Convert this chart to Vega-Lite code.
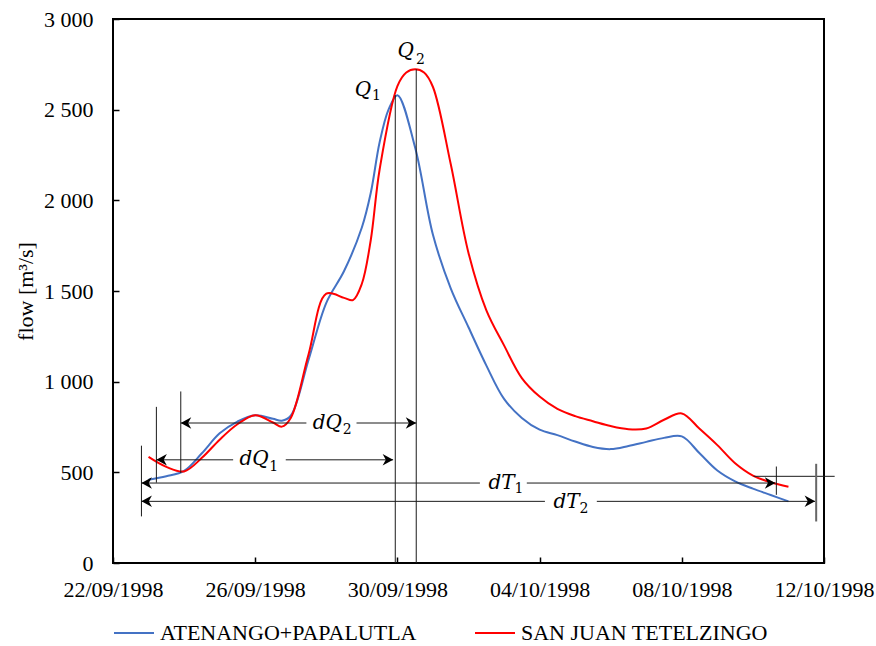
{
  "$schema": "https://vega.github.io/schema/vega-lite/v6.json",
  "autosize": {"type": "none"},
  "width": 711,
  "height": 544,
  "padding": {"left": 113, "top": 19, "right": 52, "bottom": 83},
  "background": "#ffffff",
  "config": {
    "font": "Liberation Serif",
    "view": {"stroke": "#000000", "strokeWidth": 2},
    "axis": {
      "domain": false,
      "grid": false,
      "tickColor": "#000000",
      "tickWidth": 1.5,
      "tickSize": -6,
      "labelFont": "Liberation Serif",
      "labelFontSize": 22,
      "labelColor": "#000000",
      "titleFont": "Liberation Serif",
      "titleFontSize": 22,
      "titleFontWeight": "normal",
      "titleColor": "#000000"
    },
    "legend": {
      "labelFont": "Liberation Serif",
      "labelFontSize": 22,
      "labelColor": "#000000",
      "labelLimit": 500
    }
  },
  "datasets": {
    "flows": [
      {"date": "1998-09-23T00:00:00Z", "flow": 459, "station": "ATENANGO+PAPALUTLA"},
      {"date": "1998-09-23T12:00:00Z", "flow": 478, "station": "ATENANGO+PAPALUTLA"},
      {"date": "1998-09-24T00:00:00Z", "flow": 508, "station": "ATENANGO+PAPALUTLA"},
      {"date": "1998-09-24T12:00:00Z", "flow": 605, "station": "ATENANGO+PAPALUTLA"},
      {"date": "1998-09-25T00:00:00Z", "flow": 715, "station": "ATENANGO+PAPALUTLA"},
      {"date": "1998-09-25T12:00:00Z", "flow": 780, "station": "ATENANGO+PAPALUTLA"},
      {"date": "1998-09-26T00:00:00Z", "flow": 815, "station": "ATENANGO+PAPALUTLA"},
      {"date": "1998-09-26T12:00:00Z", "flow": 795, "station": "ATENANGO+PAPALUTLA"},
      {"date": "1998-09-26T18:00:00Z", "flow": 785, "station": "ATENANGO+PAPALUTLA"},
      {"date": "1998-09-27T00:00:00Z", "flow": 812, "station": "ATENANGO+PAPALUTLA"},
      {"date": "1998-09-27T12:00:00Z", "flow": 1120, "station": "ATENANGO+PAPALUTLA"},
      {"date": "1998-09-28T00:00:00Z", "flow": 1435, "station": "ATENANGO+PAPALUTLA"},
      {"date": "1998-09-28T12:00:00Z", "flow": 1610, "station": "ATENANGO+PAPALUTLA"},
      {"date": "1998-09-29T00:00:00Z", "flow": 1850, "station": "ATENANGO+PAPALUTLA"},
      {"date": "1998-09-29T06:00:00Z", "flow": 2040, "station": "ATENANGO+PAPALUTLA"},
      {"date": "1998-09-29T12:00:00Z", "flow": 2320, "station": "ATENANGO+PAPALUTLA"},
      {"date": "1998-09-29T18:00:00Z", "flow": 2500, "station": "ATENANGO+PAPALUTLA"},
      {"date": "1998-09-30T00:00:00Z", "flow": 2580, "station": "ATENANGO+PAPALUTLA"},
      {"date": "1998-09-30T12:00:00Z", "flow": 2290, "station": "ATENANGO+PAPALUTLA"},
      {"date": "1998-10-01T00:00:00Z", "flow": 1810, "station": "ATENANGO+PAPALUTLA"},
      {"date": "1998-10-01T12:00:00Z", "flow": 1515, "station": "ATENANGO+PAPALUTLA"},
      {"date": "1998-10-02T00:00:00Z", "flow": 1300, "station": "ATENANGO+PAPALUTLA"},
      {"date": "1998-10-02T12:00:00Z", "flow": 1090, "station": "ATENANGO+PAPALUTLA"},
      {"date": "1998-10-03T00:00:00Z", "flow": 905, "station": "ATENANGO+PAPALUTLA"},
      {"date": "1998-10-03T12:00:00Z", "flow": 800, "station": "ATENANGO+PAPALUTLA"},
      {"date": "1998-10-04T00:00:00Z", "flow": 735, "station": "ATENANGO+PAPALUTLA"},
      {"date": "1998-10-04T12:00:00Z", "flow": 705, "station": "ATENANGO+PAPALUTLA"},
      {"date": "1998-10-05T00:00:00Z", "flow": 670, "station": "ATENANGO+PAPALUTLA"},
      {"date": "1998-10-05T12:00:00Z", "flow": 640, "station": "ATENANGO+PAPALUTLA"},
      {"date": "1998-10-06T00:00:00Z", "flow": 628, "station": "ATENANGO+PAPALUTLA"},
      {"date": "1998-10-06T12:00:00Z", "flow": 645, "station": "ATENANGO+PAPALUTLA"},
      {"date": "1998-10-07T00:00:00Z", "flow": 668, "station": "ATENANGO+PAPALUTLA"},
      {"date": "1998-10-07T12:00:00Z", "flow": 690, "station": "ATENANGO+PAPALUTLA"},
      {"date": "1998-10-08T00:00:00Z", "flow": 698, "station": "ATENANGO+PAPALUTLA"},
      {"date": "1998-10-08T12:00:00Z", "flow": 605, "station": "ATENANGO+PAPALUTLA"},
      {"date": "1998-10-09T00:00:00Z", "flow": 510, "station": "ATENANGO+PAPALUTLA"},
      {"date": "1998-10-09T12:00:00Z", "flow": 450, "station": "ATENANGO+PAPALUTLA"},
      {"date": "1998-10-10T00:00:00Z", "flow": 410, "station": "ATENANGO+PAPALUTLA"},
      {"date": "1998-10-10T12:00:00Z", "flow": 375, "station": "ATENANGO+PAPALUTLA"},
      {"date": "1998-10-11T00:00:00Z", "flow": 340, "station": "ATENANGO+PAPALUTLA"},
      {"date": "1998-09-23T00:00:00Z", "flow": 585, "station": "SAN JUAN TETELZINGO"},
      {"date": "1998-09-23T12:00:00Z", "flow": 530, "station": "SAN JUAN TETELZINGO"},
      {"date": "1998-09-24T00:00:00Z", "flow": 505, "station": "SAN JUAN TETELZINGO"},
      {"date": "1998-09-24T12:00:00Z", "flow": 580, "station": "SAN JUAN TETELZINGO"},
      {"date": "1998-09-25T00:00:00Z", "flow": 680, "station": "SAN JUAN TETELZINGO"},
      {"date": "1998-09-25T12:00:00Z", "flow": 765, "station": "SAN JUAN TETELZINGO"},
      {"date": "1998-09-26T00:00:00Z", "flow": 815, "station": "SAN JUAN TETELZINGO"},
      {"date": "1998-09-26T12:00:00Z", "flow": 775, "station": "SAN JUAN TETELZINGO"},
      {"date": "1998-09-26T18:00:00Z", "flow": 752, "station": "SAN JUAN TETELZINGO"},
      {"date": "1998-09-27T00:00:00Z", "flow": 800, "station": "SAN JUAN TETELZINGO"},
      {"date": "1998-09-27T12:00:00Z", "flow": 1150, "station": "SAN JUAN TETELZINGO"},
      {"date": "1998-09-28T00:00:00Z", "flow": 1485, "station": "SAN JUAN TETELZINGO"},
      {"date": "1998-09-28T12:00:00Z", "flow": 1462, "station": "SAN JUAN TETELZINGO"},
      {"date": "1998-09-28T18:00:00Z", "flow": 1450, "station": "SAN JUAN TETELZINGO"},
      {"date": "1998-09-29T00:00:00Z", "flow": 1540, "station": "SAN JUAN TETELZINGO"},
      {"date": "1998-09-29T06:00:00Z", "flow": 1780, "station": "SAN JUAN TETELZINGO"},
      {"date": "1998-09-29T12:00:00Z", "flow": 2170, "station": "SAN JUAN TETELZINGO"},
      {"date": "1998-09-30T00:00:00Z", "flow": 2630, "station": "SAN JUAN TETELZINGO"},
      {"date": "1998-09-30T06:00:00Z", "flow": 2705, "station": "SAN JUAN TETELZINGO"},
      {"date": "1998-09-30T12:00:00Z", "flow": 2723, "station": "SAN JUAN TETELZINGO"},
      {"date": "1998-09-30T18:00:00Z", "flow": 2705, "station": "SAN JUAN TETELZINGO"},
      {"date": "1998-10-01T00:00:00Z", "flow": 2625, "station": "SAN JUAN TETELZINGO"},
      {"date": "1998-10-01T12:00:00Z", "flow": 2200, "station": "SAN JUAN TETELZINGO"},
      {"date": "1998-10-02T00:00:00Z", "flow": 1710, "station": "SAN JUAN TETELZINGO"},
      {"date": "1998-10-02T12:00:00Z", "flow": 1395, "station": "SAN JUAN TETELZINGO"},
      {"date": "1998-10-03T00:00:00Z", "flow": 1200, "station": "SAN JUAN TETELZINGO"},
      {"date": "1998-10-03T12:00:00Z", "flow": 1020, "station": "SAN JUAN TETELZINGO"},
      {"date": "1998-10-04T00:00:00Z", "flow": 918, "station": "SAN JUAN TETELZINGO"},
      {"date": "1998-10-04T12:00:00Z", "flow": 850, "station": "SAN JUAN TETELZINGO"},
      {"date": "1998-10-05T00:00:00Z", "flow": 810, "station": "SAN JUAN TETELZINGO"},
      {"date": "1998-10-05T12:00:00Z", "flow": 782, "station": "SAN JUAN TETELZINGO"},
      {"date": "1998-10-06T00:00:00Z", "flow": 755, "station": "SAN JUAN TETELZINGO"},
      {"date": "1998-10-06T12:00:00Z", "flow": 738, "station": "SAN JUAN TETELZINGO"},
      {"date": "1998-10-07T00:00:00Z", "flow": 742, "station": "SAN JUAN TETELZINGO"},
      {"date": "1998-10-07T12:00:00Z", "flow": 790, "station": "SAN JUAN TETELZINGO"},
      {"date": "1998-10-08T00:00:00Z", "flow": 825, "station": "SAN JUAN TETELZINGO"},
      {"date": "1998-10-08T12:00:00Z", "flow": 740, "station": "SAN JUAN TETELZINGO"},
      {"date": "1998-10-09T00:00:00Z", "flow": 650, "station": "SAN JUAN TETELZINGO"},
      {"date": "1998-10-09T12:00:00Z", "flow": 550, "station": "SAN JUAN TETELZINGO"},
      {"date": "1998-10-10T00:00:00Z", "flow": 482, "station": "SAN JUAN TETELZINGO"},
      {"date": "1998-10-10T12:00:00Z", "flow": 445, "station": "SAN JUAN TETELZINGO"},
      {"date": "1998-10-11T00:00:00Z", "flow": 420, "station": "SAN JUAN TETELZINGO"}
    ],
    "guides": [
      {"t1": "1998-09-29T22:34:00Z", "t2": "1998-09-29T22:34:00Z", "q1": 0, "q2": 2580},
      {"t1": "1998-09-30T12:43:00Z", "t2": "1998-09-30T12:43:00Z", "q1": 0, "q2": 2723},
      {"t1": "1998-09-23T21:45:00Z", "t2": "1998-09-23T21:45:00Z", "q1": 496, "q2": 946},
      {"t1": "1998-09-23T05:17:00Z", "t2": "1998-09-23T05:17:00Z", "q1": 443, "q2": 861},
      {"t1": "1998-09-22T19:12:00Z", "t2": "1998-09-22T19:12:00Z", "q1": 257, "q2": 647},
      {"t1": "1998-10-10T15:50:00Z", "t2": "1998-10-10T15:50:00Z", "q1": 376, "q2": 532},
      {"t1": "1998-10-10T00:29:00Z", "t2": "1998-10-12T07:12:00Z", "q1": 478, "q2": 478},
      {"t1": "1998-09-23T21:45:00Z", "t2": "1998-09-27T10:34:00Z", "q1": 772, "q2": 772},
      {"t1": "1998-09-28T20:24:00Z", "t2": "1998-09-30T12:43:00Z", "q1": 772, "q2": 772},
      {"t1": "1998-09-23T05:17:00Z", "t2": "1998-09-25T09:07:00Z", "q1": 569, "q2": 569},
      {"t1": "1998-09-26T20:38:00Z", "t2": "1998-09-29T21:07:00Z", "q1": 569, "q2": 569},
      {"t1": "1998-09-22T19:12:00Z", "t2": "1998-10-02T07:41:00Z", "q1": 441, "q2": 441},
      {"t1": "1998-10-03T15:22:00Z", "t2": "1998-10-10T15:07:00Z", "q1": 441, "q2": 441},
      {"t1": "1998-09-22T19:12:00Z", "t2": "1998-10-04T03:36:00Z", "q1": 340, "q2": 340},
      {"t1": "1998-10-05T14:38:00Z", "t2": "1998-10-11T18:00:00Z", "q1": 340, "q2": 340}
    ],
    "endTick": [
      {"t1": "1998-10-11T18:43:00Z", "t2": "1998-10-11T18:43:00Z", "q1": 229, "q2": 547}
    ],
    "arrows": [
      {"t": "1998-09-23T21:45:00Z", "q": 772, "dir": "left"},
      {"t": "1998-09-23T05:17:00Z", "q": 569, "dir": "left"},
      {"t": "1998-09-22T19:12:00Z", "q": 441, "dir": "left"},
      {"t": "1998-09-22T19:12:00Z", "q": 340, "dir": "left"},
      {"t": "1998-09-30T12:43:00Z", "q": 772, "dir": "right"},
      {"t": "1998-09-29T21:07:00Z", "q": 569, "dir": "right"},
      {"t": "1998-10-10T15:07:00Z", "q": 441, "dir": "right"},
      {"t": "1998-10-11T18:00:00Z", "q": 340, "dir": "right"}
    ],
    "symbols": [
      {"t": "1998-09-29T00:43:00Z", "q": 2609, "txt": "Q"},
      {"t": "1998-09-30T05:38:00Z", "q": 2824, "txt": "Q"},
      {"t": "1998-09-28T00:43:00Z", "q": 773, "txt": "dQ"},
      {"t": "1998-09-25T23:17:00Z", "q": 575, "txt": "dQ"},
      {"t": "1998-10-02T22:19:00Z", "q": 443, "txt": "dT"},
      {"t": "1998-10-04T18:14:00Z", "q": 338, "txt": "dT"}
    ],
    "subscripts": [
      {"t": "1998-09-29T09:50:00Z", "q": 2574, "txt": "1"},
      {"t": "1998-09-30T15:30:00Z", "q": 2772, "txt": "2"},
      {"t": "1998-09-28T14:10:00Z", "q": 733, "txt": "2"},
      {"t": "1998-09-26T12:30:00Z", "q": 529, "txt": "1"},
      {"t": "1998-10-03T10:00:00Z", "q": 407, "txt": "1"},
      {"t": "1998-10-05T06:00:00Z", "q": 297, "txt": "2"}
    ]
  },
  "layer": [
    {
      "data": {"name": "flows"},
      "mark": {"type": "line", "interpolate": "catmull-rom", "strokeWidth": 2},
      "encoding": {
        "x": {
          "field": "date", "type": "temporal",
          "scale": {"type": "utc", "domain": [{"year": 1998, "month": 9, "date": 22, "utc": true}, {"year": 1998, "month": 10, "date": 12, "utc": true}]},
          "axis": {
            "title": null,
            "format": "%d/%m/%Y",
            "labelFlush": false,
            "labelOverlap": false,
            "labelPadding": 22,
            "values": [
              {"year": 1998, "month": 9, "date": 22, "utc": true},
              {"year": 1998, "month": 9, "date": 26, "utc": true},
              {"year": 1998, "month": 9, "date": 30, "utc": true},
              {"year": 1998, "month": 10, "date": 4, "utc": true},
              {"year": 1998, "month": 10, "date": 8, "utc": true},
              {"year": 1998, "month": 10, "date": 12, "utc": true}
            ]
          }
        },
        "y": {
          "field": "flow", "type": "quantitative",
          "scale": {"domain": [0, 3000], "nice": false},
          "axis": {
            "title": "flow [m³/s]",
            "values": [0, 500, 1000, 1500, 2000, 2500, 3000],
            "labelExpr": "replace(format(datum.value, ',d'), ',', ' ')",
            "labelPadding": 26,
            "titleAngle": -90,
            "titleX": -88,
            "titleY": 272,
            "titleAlign": "center",
            "titleBaseline": "middle"
          }
        },
        "color": {
          "field": "station", "type": "nominal",
          "scale": {"domain": ["ATENANGO+PAPALUTLA", "SAN JUAN TETELZINGO"], "range": ["#4472C4", "#FF0000"]},
          "legend": {
            "title": null,
            "orient": "none",
            "legendX": 0,
            "legendY": 593,
            "direction": "horizontal",
            "symbolType": "stroke",
            "symbolSize": 1600,
            "symbolStrokeWidth": 2,
            "labelOffset": 5,
            "columnPadding": 54,
            "padding": 0
          }
        }
      }
    },
    {
      "data": {"name": "guides"},
      "mark": {"type": "rule", "color": "#1a1a1a", "strokeWidth": 1},
      "encoding": {
        "x": {"field": "t1", "type": "temporal", "scale": {"type": "utc", "domain": [{"year": 1998, "month": 9, "date": 22, "utc": true}, {"year": 1998, "month": 10, "date": 12, "utc": true}]}},
        "x2": {"field": "t2"},
        "y": {"field": "q1", "type": "quantitative", "scale": {"domain": [0, 3000], "nice": false}},
        "y2": {"field": "q2"}
      }
    },
    {
      "data": {"name": "endTick"},
      "mark": {"type": "rule", "color": "#666666", "strokeWidth": 2},
      "encoding": {
        "x": {"field": "t1", "type": "temporal", "scale": {"type": "utc", "domain": [{"year": 1998, "month": 9, "date": 22, "utc": true}, {"year": 1998, "month": 10, "date": 12, "utc": true}]}},
        "x2": {"field": "t2"},
        "y": {"field": "q1", "type": "quantitative", "scale": {"domain": [0, 3000], "nice": false}},
        "y2": {"field": "q2"}
      }
    },
    {
      "data": {"name": "arrows"},
      "mark": {"type": "point", "filled": true, "opacity": 1, "size": 110, "color": "#000000", "strokeWidth": 0},
      "encoding": {
        "x": {"field": "t", "type": "temporal", "scale": {"type": "utc", "domain": [{"year": 1998, "month": 9, "date": 22, "utc": true}, {"year": 1998, "month": 10, "date": 12, "utc": true}]}},
        "y": {"field": "q", "type": "quantitative", "scale": {"domain": [0, 3000], "nice": false}},
        "shape": {
          "field": "dir", "type": "nominal", "legend": null,
          "scale": {"domain": ["left", "right"], "range": ["M0,0 L2,-1.1 L1.4,0 L2,1.1 Z", "M0,0 L-2,-1.1 L-1.4,0 L-2,1.1 Z"]}
        }
      }
    },
    {
      "data": {"name": "symbols"},
      "mark": {"type": "text", "font": "DejaVu Serif", "fontStyle": "italic", "fontSize": 20, "color": "#000000", "align": "center", "baseline": "middle"},
      "encoding": {
        "x": {"field": "t", "type": "temporal", "scale": {"type": "utc", "domain": [{"year": 1998, "month": 9, "date": 22, "utc": true}, {"year": 1998, "month": 10, "date": 12, "utc": true}]}},
        "y": {"field": "q", "type": "quantitative", "scale": {"domain": [0, 3000], "nice": false}},
        "text": {"field": "txt"}
      }
    },
    {
      "data": {"name": "subscripts"},
      "mark": {"type": "text", "font": "DejaVu Serif", "fontSize": 14, "color": "#000000", "align": "center", "baseline": "middle"},
      "encoding": {
        "x": {"field": "t", "type": "temporal", "scale": {"type": "utc", "domain": [{"year": 1998, "month": 9, "date": 22, "utc": true}, {"year": 1998, "month": 10, "date": 12, "utc": true}]}},
        "y": {"field": "q", "type": "quantitative", "scale": {"domain": [0, 3000], "nice": false}},
        "text": {"field": "txt"}
      }
    }
  ]
}
